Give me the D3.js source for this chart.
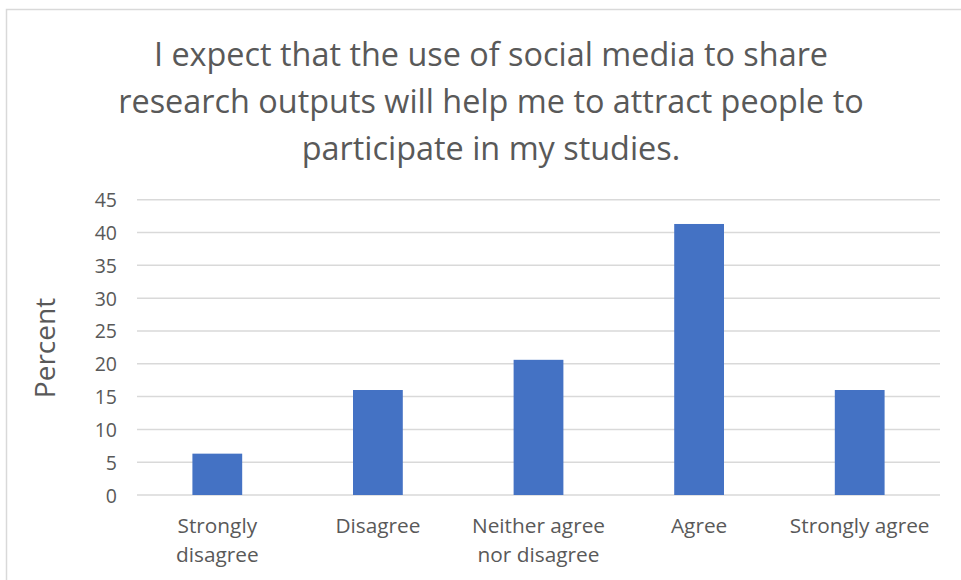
<!DOCTYPE html>
<html><head><meta charset="utf-8">
<script src="https://cdn.jsdelivr.net/npm/d3@7"></script>
<style>body{margin:0;background:#fff;} svg{display:block;}</style>
</head><body>
<svg id="c" width="961" height="580"></svg>
<script>
const categories = [["Strongly","disagree"],["Disagree"],["Neither agree","nor disagree"],["Agree"],["Strongly agree"]];
const values = [6.3, 16.0, 20.6, 41.3, 16.0];
const yTicks = [0,5,10,15,20,25,30,35,40,45];
const titleLines = ["I expect that the use of social media to share","research outputs will help me to attract people to","participate in my studies."];
const yLabel = "Percent";

const svg = d3.select("#c");
const font = "'Open Sans', Lato, sans-serif";
const txt = "#595959";

svg.append("rect").attr("x",6.5).attr("y",9.5).attr("width",970).attr("height",600)
  .attr("fill","#fff").attr("stroke","#d9d9d9").attr("stroke-width",1.5);

const m = {left:137, right:940, top:199.7, bottom:495};
const x = d3.scaleBand().domain(d3.range(categories.length)).range([m.left,m.right]).paddingInner(0.69).paddingOuter(0.345);
const y = d3.scaleLinear().domain([0,45]).range([m.bottom,m.top]);

svg.append("g").selectAll("line").data(yTicks).join("line")
  .attr("x1",m.left).attr("x2",m.right)
  .attr("y1",d=>y(d)).attr("y2",d=>y(d))
  .attr("stroke","#d9d9d9").attr("stroke-width",1.5);

const yAxis = d3.axisLeft(y).tickValues(yTicks).tickSize(0).tickPadding(0);
const gy = svg.append("g").attr("transform",`translate(${m.left-20},0)`).call(yAxis);
gy.select(".domain").remove();
gy.selectAll("text").attr("fill",txt).attr("font-family",font).attr("font-size",19.5).attr("dy","0.36em");

svg.append("g").selectAll("rect").data(values).join("rect")
  .attr("x",(d,i)=>x(i)).attr("width",x.bandwidth())
  .attr("y",d=>y(d)).attr("height",d=>y(0)-y(d))
  .attr("fill","#4472c4");

const gx = svg.append("g");
categories.forEach((c,i)=>{
  c.forEach((line,j)=>{
    gx.append("text").attr("x",x(i)+x.bandwidth()/2).attr("y",533+j*29)
      .attr("text-anchor","middle").attr("fill",txt).attr("font-family",font).attr("font-size",20.8)
      .text(line);
  });
});

svg.append("text").attr("transform","translate(55,348) rotate(-90)")
  .attr("text-anchor","middle").attr("fill",txt).attr("font-family",font).attr("font-size",28)
  .text(yLabel);

const tg = svg.append("g");
titleLines.forEach((l,i)=>{
  tg.append("text").attr("x",491).attr("y",65.5+i*47)
    .attr("text-anchor","middle").attr("fill",txt).attr("font-family",font).attr("font-size",32.4)
    .text(l);
});
</script>
</body></html>
